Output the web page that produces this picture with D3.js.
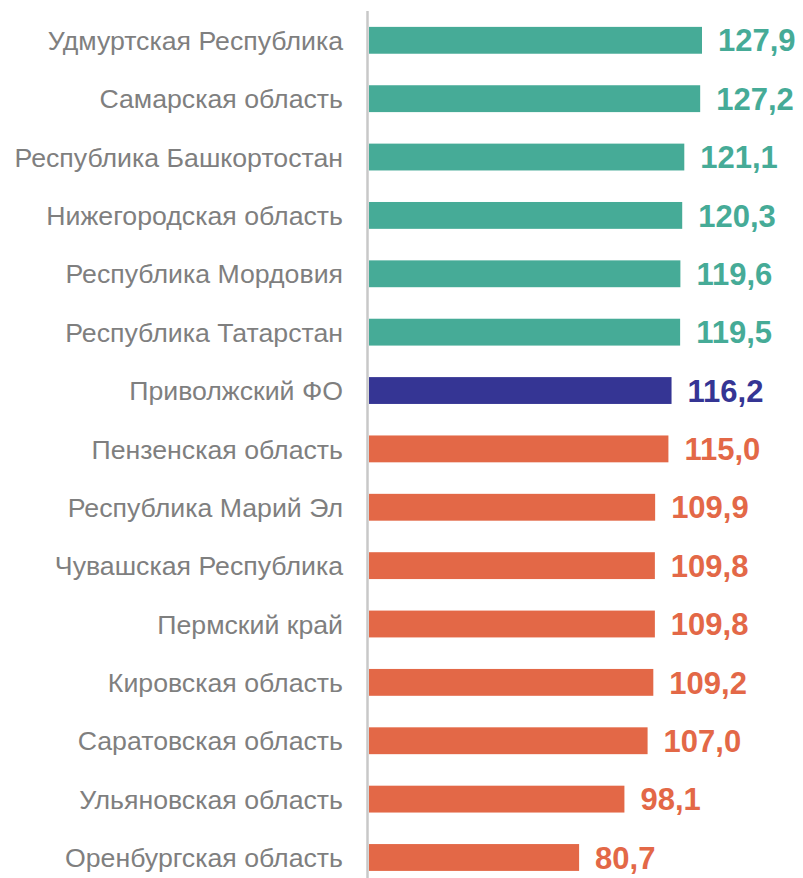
<!DOCTYPE html>
<html>
<head>
<meta charset="utf-8">
<script src="https://cdn.jsdelivr.net/npm/d3@7"></script>
<style>
  body { margin: 0; background: #fff; }
  svg { display: block; }
</style>
</head>
<body>
<svg id="chart"></svg>
<script>
const regions = [
  "Удмуртская Республика", "Самарская область", "Республика Башкортостан",
  "Нижегородская область", "Республика Мордовия", "Республика Татарстан",
  "Приволжский ФО", "Пензенская область", "Республика Марий Эл",
  "Чувашская Республика", "Пермский край", "Кировская область",
  "Саратовская область", "Ульяновская область", "Оренбургская область"
];
const values = [127.9, 127.2, 121.1, 120.3, 119.6, 119.5, 116.2, 115.0, 109.9, 109.8, 109.8, 109.2, 107.0, 98.1, 80.7];
const groups = ["up", "up", "up", "up", "up", "up", "total", "down", "down", "down", "down", "down", "down", "down", "down"];

const colors = { up: "#46ab97", total: "#353594", down: "#e36847" };

window.addEventListener("load", () => {
  const W = 803, H = 878;
  const svg = d3.select("#chart").attr("width", W).attr("height", H);

  const x = d3.scaleLinear().domain([0, 127.9]).range([369, 702]);
  const y = d3.scaleBand().domain(regions)
    .range([40.3 - 29.18, 40.3 - 29.18 + 15 * 58.37])
    .paddingInner(0.54).paddingOuter(0.27);

  const rows = regions.map((r, i) => ({ name: r, value: values[i], group: groups[i] }));

  svg.selectAll("rect.bar")
    .data(rows).enter().append("rect")
    .attr("class", "bar")
    .attr("x", x(0))
    .attr("y", d => y(d.name))
    .attr("width", d => x(d.value) - x(0))
    .attr("height", y.bandwidth())
    .attr("fill", d => colors[d.group]);

  svg.selectAll("text.val")
    .data(rows).enter().append("text")
    .attr("class", "val")
    .attr("x", d => x(d.value) + 16)
    .attr("y", d => y(d.name) + y.bandwidth() / 2)
    .attr("dy", "0.36em")
    .attr("font-family", "'Liberation Sans', Arial, sans-serif")
    .attr("font-weight", "bold")
    .attr("font-size", 31)
    .attr("fill", d => colors[d.group])
    .text(d => d3.format(".1f")(d.value).replace(".", ","));

  svg.selectAll("text.cat")
    .data(rows).enter().append("text")
    .attr("class", "cat")
    .attr("x", 343)
    .attr("y", d => y(d.name) + y.bandwidth() / 2)
    .attr("dy", "0.36em")
    .attr("text-anchor", "end")
    .attr("font-family", "'Liberation Sans', Arial, sans-serif")
    .attr("font-size", 26.7)
    .attr("fill", "#7f7f7f")
    .text(d => d.name);

  svg.append("line")
    .attr("x1", 367.5).attr("x2", 367.5)
    .attr("y1", 11).attr("y2", H)
    .attr("stroke", "#c8c8c8")
    .attr("stroke-width", 2.5);
});
</script>
</body>
</html>
